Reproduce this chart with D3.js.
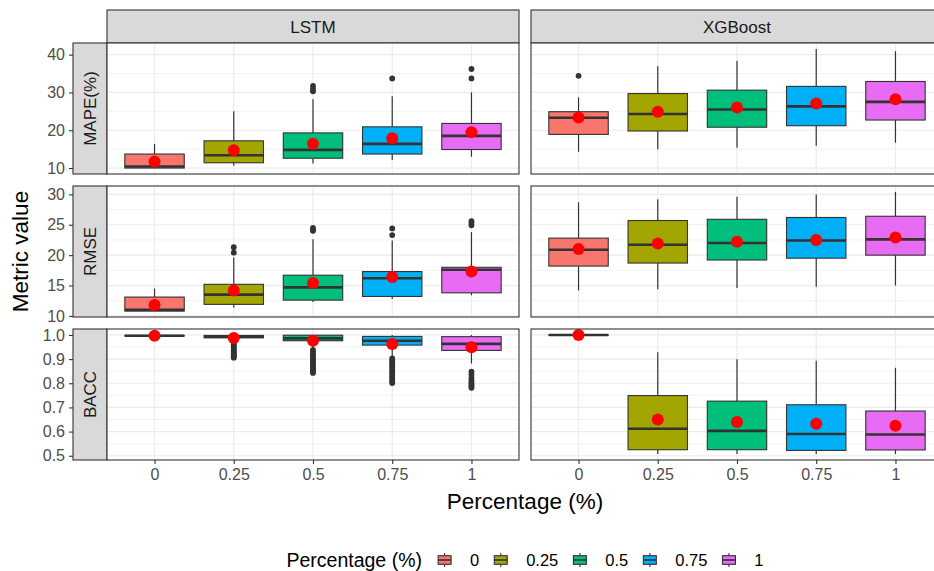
<!DOCTYPE html>
<head>
    <meta charset="utf-8">
    <title>Metric boxplots by percentage</title>
    <style>
        body { margin: 0; background: #fff; }
        text { font-family: "Liberation Sans", Arial, sans-serif; }
    </style>
</head>

<body>

<svg width="934" height="571"></svg>

<script src="https://d3js.org/d3.v7.min.js"></script>

<script>
    const models = ["LSTM", "XGBoost"];
    const metrics = ["MAPE(%)", "RMSE", "BACC"];
    const percentages = ["0", "0.25", "0.5", "0.75", "1"];
    const fills = ["#F8766D", "#A3A500", "#00BF7D", "#00B0F6", "#E76BF3"];

    // boxes are [lower whisker, q1, median, q3, upper whisker]
    const mapeLstmBox = [
        [10.0, 10.0, 10.4, 13.7, 16.4],
        [10.6, 11.4, 13.4, 17.2, 25.0],
        [11.2, 12.6, 14.8, 19.3, 28.2],
        [12.1, 13.7, 16.4, 20.9, 29.0],
        [13.0, 14.9, 18.5, 21.8, 30.0]
    ];
    const mapeLstmMean = [11.7, 14.7, 16.4, 17.9, 19.5];
    const mapeLstmOut = [[], [], [30.3, 30.9, 31.7], [33.7], [33.7, 36.2]];

    const mapeXgbBox = [
        [14.3, 18.9, 23.3, 24.9, 28.7],
        [15.0, 19.8, 24.3, 29.7, 36.9],
        [15.4, 20.8, 25.5, 30.6, 38.4],
        [15.9, 21.2, 26.3, 31.6, 41.5],
        [16.7, 22.7, 27.5, 32.9, 40.9]
    ];
    const mapeXgbMean = [23.4, 24.9, 26.0, 27.1, 28.2];
    const mapeXgbOut = [[34.4], [], [], [], []];

    const rmseLstmBox = [
        [10.8, 10.8, 11.0, 13.1, 14.5],
        [11.4, 11.9, 13.5, 15.2, 19.6],
        [12.3, 12.6, 14.7, 16.7, 22.6],
        [12.8, 13.2, 16.2, 17.3, 22.4],
        [13.4, 13.8, 17.6, 18.0, 23.8]
    ];
    const rmseLstmMean = [11.8, 14.2, 15.4, 16.4, 17.3];
    const rmseLstmOut = [[], [20.4, 21.3], [24.0, 24.2, 24.5], [23.3, 24.4], [24.9, 25.3, 25.6]];

    const rmseXgbBox = [
        [14.2, 18.2, 20.9, 22.8, 28.7],
        [14.4, 18.7, 21.7, 25.7, 29.2],
        [14.6, 19.2, 22.0, 25.9, 29.6],
        [14.8, 19.5, 22.4, 26.2, 30.0],
        [15.0, 20.0, 22.6, 26.4, 30.4]
    ];
    const rmseXgbMean = [21.0, 21.9, 22.2, 22.5, 22.9];
    const rmseXgbOut = [[], [], [], [], []];

    const baccLstmBox = [
        [0.995, 0.996, 0.997, 0.998, 1.0],
        [0.978, 0.988, 0.993, 0.998, 1.0],
        [0.945, 0.976, 0.986, 0.999, 1.0],
        [0.912, 0.958, 0.976, 0.994, 1.0],
        [0.882, 0.936, 0.963, 0.993, 1.0]
    ];
    const baccLstmMean = [0.997, 0.987, 0.976, 0.963, 0.949];
    const baccLstmOut = [
        [],
        [0.970, 0.962, 0.955, 0.948, 0.942, 0.936, 0.930, 0.925, 0.920, 0.915, 0.910, 0.906],
        [0.938, 0.930, 0.922, 0.914, 0.906, 0.898, 0.890, 0.882, 0.874, 0.866, 0.858, 0.850, 0.843],
        [0.903, 0.895, 0.887, 0.879, 0.871, 0.863, 0.855, 0.847, 0.839, 0.831, 0.823, 0.815, 0.807, 0.801],
        [0.848, 0.836, 0.822, 0.812, 0.803, 0.795, 0.788, 0.781]
    ];

    const baccXgbBox = [
        [0.999, 0.999, 1.0, 1.0, 1.0],
        [0.507, 0.525, 0.612, 0.749, 0.928],
        [0.507, 0.525, 0.603, 0.726, 0.899],
        [0.507, 0.522, 0.590, 0.711, 0.893],
        [0.507, 0.524, 0.588, 0.685, 0.864]
    ];
    const baccXgbMean = [1.0, 0.650, 0.640, 0.632, 0.624];
    const baccXgbOut = [[], [], [], [], []];

    const table = [
        [[mapeLstmBox, mapeLstmMean, mapeLstmOut], [mapeXgbBox, mapeXgbMean, mapeXgbOut]],
        [[rmseLstmBox, rmseLstmMean, rmseLstmOut], [rmseXgbBox, rmseXgbMean, rmseXgbOut]],
        [[baccLstmBox, baccLstmMean, baccLstmOut], [baccXgbBox, baccXgbMean, baccXgbOut]]
    ];
    const tickCounts = [4, 5, 5];
    const tickFormats = [d3.format("d"), d3.format("d"), d3.format(".1f")];

    const svg = d3.select("svg");
    const panelLeft = [107, 531], panelW = 412;
    const panelTop = [43, 186, 329], panelH = 131;
    const dark = "#333333", grid = "#EBEBEB", tickCol = "#4D4D4D";

    const x = d3.scalePoint().domain(percentages).range([0, panelW]).padding(0.6);
    const boxW = x.step() * 0.75;

    // column strips
    models.forEach((m, j) => {
        svg.append("rect")
            .attr("x", panelLeft[j]).attr("y", 10)
            .attr("width", panelW).attr("height", panelTop[0] - 10)
            .attr("fill", "#D9D9D9").attr("stroke", dark).attr("stroke-width", 1.1);
        svg.append("text")
            .attr("x", panelLeft[j] + panelW / 2).attr("y", 27)
            .attr("dy", "0.35em").attr("text-anchor", "middle")
            .style("font-size", "17px").attr("fill", "#1A1A1A")
            .text(m);
    });

    metrics.forEach((metric, r) => {
        const top = panelTop[r];
        const rows = table[r];

        // y extent over both models, padded like ggplot
        const vals = [];
        rows.forEach(([box, mean, out]) => {
            box.forEach(b => vals.push(b[0], b[4]));
            out.forEach(o => vals.push(...o));
        });
        const [lo, hi] = d3.extent(vals);
        const pad = (hi - lo) * 0.05;
        const y = d3.scaleLinear().domain([lo - pad, hi + pad]).range([top + panelH, top]);
        const ticks = y.ticks(tickCounts[r]);
        const step = ticks[1] - ticks[0];
        const minor = d3.range(ticks[0] - step / 2, ticks[ticks.length - 1] + step, step)
            .filter(v => v > y.domain()[0] && v < y.domain()[1]);

        // row strip
        svg.append("rect")
            .attr("x", 73).attr("y", top)
            .attr("width", 34).attr("height", panelH)
            .attr("fill", "#D9D9D9").attr("stroke", dark).attr("stroke-width", 1.1);
        svg.append("text")
            .attr("transform", `translate(90,${top + panelH / 2}) rotate(-90)`)
            .attr("dy", "0.35em").attr("text-anchor", "middle")
            .style("font-size", "17px").attr("fill", "#1A1A1A")
            .text(metric);

        // y axis
        const yAxis = svg.append("g")
            .attr("transform", "translate(73,0)")
            .call(d3.axisLeft(y).tickValues(ticks).tickFormat(tickFormats[r]).tickSize(4).tickPadding(4));
        yAxis.select(".domain").remove();
        yAxis.selectAll("line").attr("stroke", dark).attr("stroke-width", 1.1);
        yAxis.selectAll("text").attr("fill", tickCol).style("font-size", "16px")
            .style("font-family", "Liberation Sans, Arial, sans-serif");

        rows.forEach(([box, mean, out], j) => {
            const g = svg.append("g").attr("transform", `translate(${panelLeft[j]},0)`);
            g.append("rect")
                .attr("x", 0).attr("y", top).attr("width", panelW).attr("height", panelH)
                .attr("fill", "#fff");

            g.selectAll(".minor").data(minor).enter().append("line")
                .attr("x1", 0).attr("x2", panelW)
                .attr("y1", d => y(d)).attr("y2", d => y(d))
                .attr("stroke", grid).attr("stroke-width", 0.6);
            g.selectAll(".major").data(ticks).enter().append("line")
                .attr("x1", 0).attr("x2", panelW)
                .attr("y1", d => y(d)).attr("y2", d => y(d))
                .attr("stroke", grid).attr("stroke-width", 1.2);
            g.selectAll(".vmajor").data(percentages).enter().append("line")
                .attr("x1", d => x(d)).attr("x2", d => x(d))
                .attr("y1", top).attr("y2", top + panelH)
                .attr("stroke", grid).attr("stroke-width", 1.2);

            const b = g.selectAll(".box")
                .data(box.map((s, i) => ({ s, p: percentages[i], c: fills[i] })))
                .enter().append("g");

            b.append("line")
                .attr("x1", d => x(d.p)).attr("x2", d => x(d.p))
                .attr("y1", d => y(d.s[4])).attr("y2", d => y(d.s[3]))
                .attr("stroke", dark).attr("stroke-width", 1.2);
            b.append("line")
                .attr("x1", d => x(d.p)).attr("x2", d => x(d.p))
                .attr("y1", d => y(d.s[1])).attr("y2", d => y(d.s[0]))
                .attr("stroke", dark).attr("stroke-width", 1.2);
            b.append("rect")
                .attr("x", d => x(d.p) - boxW / 2).attr("width", boxW)
                .attr("y", d => y(d.s[3])).attr("height", d => y(d.s[1]) - y(d.s[3]))
                .attr("fill", d => d.c).attr("stroke", dark).attr("stroke-width", 1.1);
            b.append("line")
                .attr("x1", d => x(d.p) - boxW / 2).attr("x2", d => x(d.p) + boxW / 2)
                .attr("y1", d => y(d.s[2])).attr("y2", d => y(d.s[2]))
                .attr("stroke", dark).attr("stroke-width", 2.6);

            const outs = [];
            out.forEach((o, i) => o.forEach(v => outs.push({ p: percentages[i], v })));
            g.selectAll(".out").data(outs).enter().append("circle")
                .attr("cx", d => x(d.p)).attr("cy", d => y(d.v)).attr("r", 2.9)
                .attr("fill", dark);

            g.selectAll(".mean").data(mean.map((v, i) => ({ p: percentages[i], v })))
                .enter().append("circle")
                .attr("cx", d => x(d.p)).attr("cy", d => y(d.v)).attr("r", 6)
                .attr("fill", "#FF0000");

            g.append("rect")
                .attr("x", 0).attr("y", top).attr("width", panelW).attr("height", panelH)
                .attr("fill", "none").attr("stroke", dark).attr("stroke-width", 1.1);
        });
    });

    // x axes
    const bottom = panelTop[2] + panelH;
    panelLeft.forEach(left => {
        const xAxis = svg.append("g")
            .attr("transform", `translate(${left},${bottom})`)
            .call(d3.axisBottom(x).tickSize(4).tickPadding(5));
        xAxis.select(".domain").remove();
        xAxis.selectAll("line").attr("stroke", dark).attr("stroke-width", 1.1);
        xAxis.selectAll("text").attr("fill", tickCol).style("font-size", "16px")
            .style("font-family", "Liberation Sans, Arial, sans-serif");
    });

    const midX = (panelLeft[0] + panelLeft[1] + panelW) / 2;
    svg.append("text")
        .attr("x", midX).attr("y", 509)
        .attr("text-anchor", "middle")
        .style("font-size", "22.5px").attr("fill", "#000")
        .text("Percentage (%)");

    svg.append("text")
        .attr("transform", `translate(28,${(panelTop[0] + bottom) / 2}) rotate(-90)`)
        .attr("text-anchor", "middle")
        .style("font-size", "22.5px").attr("fill", "#000")
        .text("Metric value");

    // legend
    const legend = svg.append("g").attr("transform", "translate(0,560)");
    const title = legend.append("text")
        .attr("x", 0).attr("dy", "0.35em")
        .style("font-size", "19.5px").attr("fill", "#000")
        .text("Percentage (%)");
    let lx = title.node().getComputedTextLength() + 14;
    const k = 17.28;
    percentages.forEach((p, i) => {
        const key = legend.append("g").attr("transform", `translate(${lx},${-k / 2})`);
        key.append("line").attr("x1", k / 2).attr("x2", k / 2).attr("y1", k * 0.1).attr("y2", k * 0.9)
            .attr("stroke", dark).attr("stroke-width", 1.1);
        key.append("rect").attr("x", k * 0.125).attr("y", k * 0.25)
            .attr("width", k * 0.75).attr("height", k * 0.5)
            .attr("fill", fills[i]).attr("stroke", dark).attr("stroke-width", 1.1);
        key.append("line").attr("x1", k * 0.125).attr("x2", k * 0.875).attr("y1", k / 2).attr("y2", k / 2)
            .attr("stroke", dark).attr("stroke-width", 1.6);
        const label = legend.append("text")
            .attr("x", lx + 34).attr("dy", "0.35em")
            .style("font-size", "16.5px").attr("fill", "#000")
            .text(p);
        lx += 34 + label.node().getComputedTextLength() + 13;
    });
    legend.attr("transform", `translate(${midX - (lx - 13) / 2},560)`);
</script>

</body>
